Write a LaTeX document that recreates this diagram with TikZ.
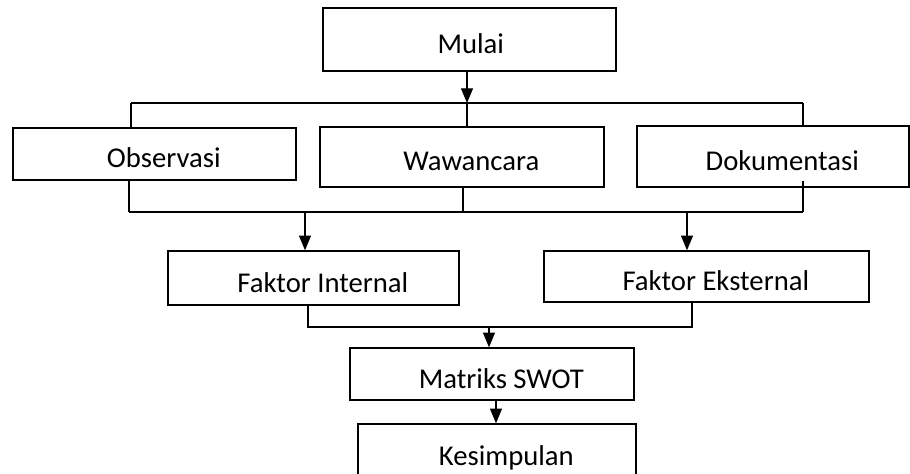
\documentclass[tikz,border=0pt]{standalone}
\usepackage{fontspec}
\setmainfont{Carlito}
\usetikzlibrary{arrows.meta}
\tikzset{
  bx/.style 2 args={draw, line width=1.1pt, minimum width=#1*0.75pt, minimum height=#2*0.75pt,
    inner sep=0pt, text height=22pt, text depth=1pt, font=\fontsize{21.5}{26}\selectfont},
  ln/.style={line width=0.8pt},
  arr/.style={line width=0.8pt, -{Triangle[length=11pt,width=9pt]}}
}
\newcommand{\sh}[1]{\hspace*{#1}}
\begin{document}
\begin{tikzpicture}[x=0.75pt,y=-0.75pt]
\useasboundingbox (0,0) rectangle (910,474);
% boxes
\node[bx={293}{63}] (mulai) at (469.5,39.5) {\sh{2pt}Mulai};
\node[bx={283}{52}] (obs) at (154.5,154) {\sh{14pt}Observasi};
\node[bx={284}{60}] (waw) at (462,157) {\sh{14pt}Wawancara};
\node[bx={272}{61}] (dok) at (773,156.5) {\sh{14pt}Dokumentasi};
\node[bx={291}{54}] (fi) at (313.5,278) {\sh{14pt}Faktor Internal};
\node[bx={325}{51}] (fe) at (706.5,276.5) {\sh{14pt}Faktor Eksternal};
\node[bx={284}{52}] (ms) at (492,374) {\sh{14pt}Matriks SWOT};
\node[bx={278}{54}] (kes) at (497,451) {\sh{14pt}Kesimpulan};
% top bus
\coordinate (tb1) at (131,103);
\coordinate (tb2) at (467,103);
\coordinate (tb3) at (803,103);
\draw[arr] (mulai.south -| tb2) -- (tb2);
\draw[ln] (tb1) -- (tb3);
\draw[ln] (tb1) -- (tb1 |- obs.north);
\draw[ln] (tb2) -- (tb2 |- waw.north);
\draw[ln] (tb3) -- (tb3 |- dok.north);
% lower bus
\coordinate (lb1) at (129,212);
\coordinate (lb2) at (463,212);
\coordinate (lb3) at (803,212);
\coordinate (la1) at (305,212);
\coordinate (la2) at (687,212);
\draw[ln] (lb1) -- (lb3);
\draw[ln] (obs.south -| lb1) -- (lb1);
\draw[ln] (waw.south -| lb2) -- (lb2);
\draw[ln] ([yshift=5.25pt]dok.south -| lb3) -- (lb3);
\draw[arr] (la1) -- (la1 |- fi.north);
\draw[arr] (la2) -- (la2 |- fe.north);
% factor bus
\coordinate (mb1) at (308,327);
\coordinate (mb2) at (692,327);
\coordinate (mb3) at (489,327);
\draw[ln] (fi.south -| mb1) -- (mb1) -- (mb2) -- (fe.south -| mb2);
\draw[arr] (mb3) -- (mb3 |- ms.north);
\coordinate (kx) at (496,400);
\draw[arr] (ms.south -| kx) -- (kes.north -| kx);
\end{tikzpicture}
\end{document}
